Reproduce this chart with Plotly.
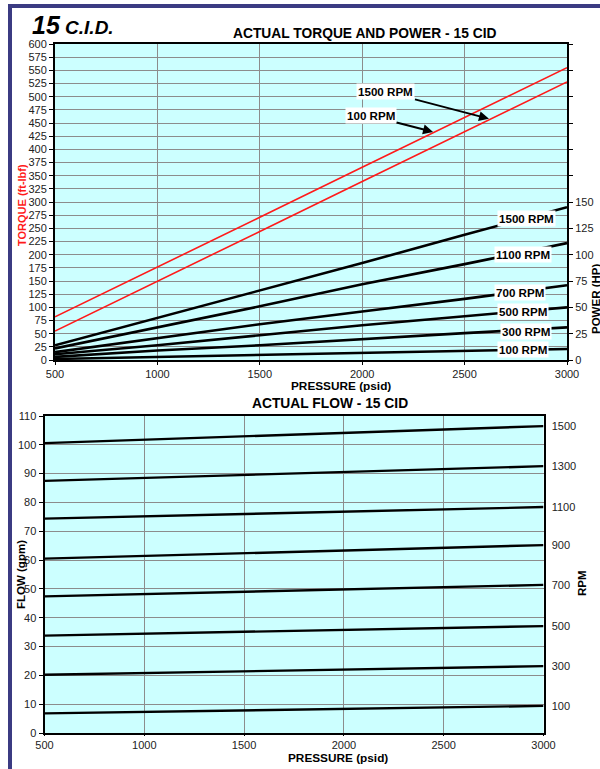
import plotly.graph_objects as go

W, H = 600, 769

# ---- data ----
pressure = [500, 1000, 1500, 2000, 2500, 3000]

torque_rpm = ["100 RPM", "1500 RPM"]
torque = [
    [82, 176, 271, 366, 460, 555],   # 100 RPM
    [55, 149, 244, 339, 433, 528],   # 1500 RPM
]

power_rpm = ["1500 RPM", "1100 RPM", "700 RPM", "500 RPM", "300 RPM", "100 RPM"]
power = [
    [14, 40, 66, 92, 119, 145],
    [11, 31, 51, 72, 91, 111],
    [7.5, 20.5, 34, 46, 58, 71],
    [5.5, 14, 23.5, 33, 41.5, 50],
    [3, 9, 14, 20, 25.5, 31],
    [1, 3, 4.5, 6.5, 8.5, 10.5],
]
power_label_pos = [(2800, 134), (2787, 100), (2770, 64), (2787, 46.5), (2800, 26.6), (2787, 9.5)]

flow_pressure = [500, 3000]
flow_rpm = ["100", "300", "500", "700", "900", "1100", "1300", "1500"]
flow = [
    [6.8, 9.4],
    [20.2, 23.2],
    [33.8, 37.1],
    [47.4, 51.4],
    [60.5, 65.2],
    [74.4, 78.4],
    [87.5, 92.6],
    [100.6, 106.5],
]

FONT = "Liberation Sans, Arial, sans-serif"
GRID = "#8c8c8c"
BORDER = "#3b3b82"


def px(x):
    return x / W


def py(y):
    return 1 - y / H


fig = go.Figure()

# page frame (navy bars on the left and top)
fig.add_shape(type="rect", xref="paper", yref="paper", x0=px(8), x1=px(12), y0=0, y1=py(4),
              fillcolor=BORDER, line=dict(width=0), layer="above")
fig.add_shape(type="rect", xref="paper", yref="paper", x0=px(8), x1=1, y0=py(8), y1=py(4),
              fillcolor=BORDER, line=dict(width=0), layer="above")

for name, vals in zip(torque_rpm, torque):
    fig.add_trace(go.Scatter(x=pressure, y=vals, mode="lines", name=name,
                             line=dict(color="#ff1a1a", width=1.6),
                             xaxis="x", yaxis="y"))

for name, vals in zip(power_rpm, power):
    fig.add_trace(go.Scatter(x=pressure, y=vals, mode="lines", name=name,
                             line=dict(color="black", width=2.6),
                             xaxis="x", yaxis="y2"))

for name, vals in zip(flow_rpm, flow):
    fig.add_trace(go.Scatter(x=flow_pressure, y=vals, mode="lines", name=name,
                             line=dict(color="black", width=2.4),
                             xaxis="x2", yaxis="y3"))

# invisible trace so the RPM axis gets drawn
fig.add_trace(go.Scatter(x=[flow_pressure[-1]] * len(flow), y=[v[-1] for v in flow],
                         mode="markers", marker=dict(opacity=0), hoverinfo="skip",
                         xaxis="x2", yaxis="y4"))

axis_common = dict(showline=True, linecolor="black", linewidth=2, zeroline=False,
                   automargin=False, ticks="outside", ticklen=4, tickcolor="black",
                   tickfont=dict(family=FONT, size=11, color="#222"))

fig.update_layout(
    template="none",
    width=W, height=H,
    margin=dict(l=0, r=0, t=0, b=0, pad=0),
    paper_bgcolor="white",
    plot_bgcolor="#ccffff",
    showlegend=False,
    font=dict(family=FONT),
    xaxis=dict(domain=[px(55), px(567)], anchor="y", range=[500, 3000], dtick=500,
               showgrid=True, gridcolor=GRID, gridwidth=1, mirror=True, **axis_common),
    yaxis=dict(domain=[py(360), py(44)], anchor="x", range=[0, 600], dtick=25,
               showgrid=True, gridcolor=GRID, gridwidth=1, mirror=True, **axis_common),
    yaxis2=dict(overlaying="y", anchor="x", side="right", range=[0, 300],
                tickvals=list(range(0, 301, 25)),
                ticktext=[str(v) if v <= 150 else "" for v in range(0, 301, 25)],
                showgrid=False, **axis_common),
    xaxis2=dict(domain=[px(44.5), px(543.5)], anchor="y3", range=[500, 3000], dtick=500,
                showgrid=True, gridcolor=GRID, gridwidth=1, mirror=True, **axis_common),
    yaxis3=dict(domain=[py(733), py(416)], anchor="x2", range=[0, 110], dtick=10,
                showgrid=True, gridcolor=GRID, gridwidth=1, mirror=True, **axis_common),
    yaxis4=dict(overlaying="y3", anchor="x2", side="right", range=[0, 110],
                tickvals=[v[-1] for v in flow], ticktext=flow_rpm,
                showgrid=False, showline=False, zeroline=False, automargin=False,
                ticks="outside", ticklen=5, tickcolor="rgba(0,0,0,0)",
                tickfont=dict(family=FONT, size=11, color="#222")),
)
fig.update_xaxes(ticklen=3, selector=dict(anchor="y"))
fig.update_xaxes(ticklen=1, selector=dict(anchor="y3"))

ann = []
bold_lbl = dict(family=FONT, size=11.6, color="black")

# RPM labels on the power lines
for name, (x, y) in zip(power_rpm, power_label_pos):
    ann.append(dict(x=x, y=y, xref="x", yref="y2", text="<b>%s</b>" % name,
                    showarrow=False, bgcolor="white", borderpad=1, font=bold_lbl))

# arrows to the torque lines
ann.append(dict(x=2619, y=458, xref="x", yref="y", text="<b>1500 RPM</b>",
                showarrow=True, ax=-103, ay=-27, arrowhead=2, arrowsize=1, arrowwidth=2,
                arrowcolor="black", bgcolor="white", borderpad=1, font=bold_lbl))
ann.append(dict(x=2346, y=433, xref="x", yref="y", text="<b>100 RPM</b>",
                showarrow=True, ax=-62, ay=-16, arrowhead=2, arrowsize=1, arrowwidth=2,
                arrowcolor="black", bgcolor="white", borderpad=1, font=bold_lbl))

# titles and axis titles
texts = [
    ("<b><i><span style='font-size:25px'>15</span> C.I.D.</i></b>", 30, 25, 19, "black", 0, "left"),
    ("<b>ACTUAL TORQUE AND POWER - 15 CID</b>", 365, 33, 13.8, "black", 0, "center"),
    ("<b>TORQUE (ft-lbf)</b>", 22, 205, 11, "#ff1a1a", -90, "center"),
    ("<b>POWER (HP)</b>", 596, 299, 11.5, "black", -90, "center"),
    ("<b>PRESSURE (psid)</b>", 341, 386, 11.8, "black", 0, "center"),
    ("<b>ACTUAL FLOW - 15 CID</b>", 330, 403, 13.8, "black", 0, "center"),
    ("<b>FLOW (gpm)</b>", 21, 575, 11.5, "black", -90, "center"),
    ("<b>RPM</b>", 582, 583, 11.5, "black", -90, "center"),
    ("<b>PRESSURE (psid)</b>", 338, 758, 11.8, "black", 0, "center"),
]
for t, x, y, s, c, ang, xa in texts:
    ann.append(dict(x=px(x), y=py(y), xref="paper", yref="paper", text=t, showarrow=False,
                    textangle=ang, xanchor=xa, yanchor="middle",
                    font=dict(family=FONT, size=s, color=c)))

fig.update_layout(annotations=ann)

# body margin off; frame bars repeated in CSS in case the paper shapes get hidden
post = """
document.body.style.margin='0';
document.body.style.overflow='hidden';
[[8,4,4,765],[8,4,592,4]].forEach(function(r){
  var d=document.createElement('div');
  d.style.cssText='position:absolute;pointer-events:none;background:%s;left:'+r[0]+'px;top:'+r[1]+'px;width:'+r[2]+'px;height:'+r[3]+'px;';
  document.body.appendChild(d);
});
""" % BORDER

fig.write_html("out.html", config={"displayModeBar": False}, post_script=post)
